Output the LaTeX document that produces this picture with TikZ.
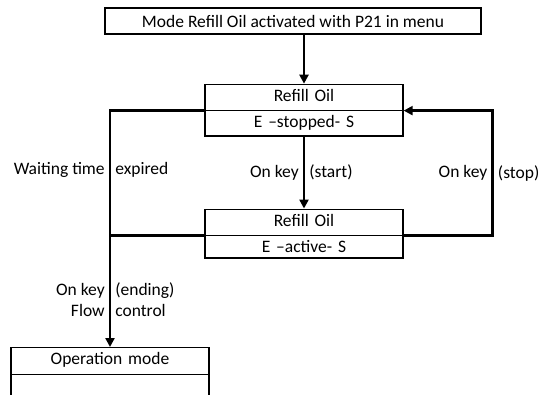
\documentclass[tikz,border=0pt]{standalone}
\usepackage{fontspec}
\setmainfont{Carlito}
\usetikzlibrary{positioning,shapes.multipart,arrows.meta}

\begin{document}
\begin{tikzpicture}[x=1bp, y=-1bp,
		font=\fontsize{17.5bp}{21bp}\selectfont,
		startbox/.style={rectangle, draw=black, line width=1.3bp, minimum width=376bp, minimum height=26bp, inner sep=0pt},
		statebox/.style={rectangle split, rectangle split parts=2, rectangle split draw splits=false, draw=black, line width=1.3bp, text width=190bp, align=center, inner xsep=4bp, inner ysep=4.5bp, text height=12bp, text depth=4bp},
		label/.style={inner sep=4bp, font=\fontsize{17.5bp}{21bp}\selectfont}
	]
	\useasboundingbox (0,0) rectangle (539,394);
	\node[startbox] (activate) at (293,21) {Mode Refill Oil activated with P21 in menu};
	\node[statebox] (stopped) [below=49bp of activate, xshift=11bp] {Refill Oil \nodepart{two} E –stopped- S};
	\node[statebox] (active) [below=72bp of stopped] {Refill Oil \nodepart{two} E –active- S};
	\node[statebox, anchor=north] (opmode) at (110,347) {Operation mode \nodepart{two} \rule{0pt}{30bp}};
	% thin dividers
	\foreach \n in {stopped,active,opmode}
		\draw[line width=0.7bp] (\n.text split west) -- (\n.text split east);
	\begin{scope}[line width=2.6bp, -{Triangle[length=9bp,width=9bp]}]
	\draw (activate.south -| stopped.north) -- (stopped.north);
	\draw (stopped.south) -- (active.north)
		node[label, midway, left] {On key}
		node[label, midway, right] {(start)};
	\draw (active.text split east) -- ++(89,0) |- (stopped.text split east)
		node[label, pos=0.25, left] {On key}
		node[label, pos=0.25, right] {(stop)};
	\draw (stopped.text split west) -| (opmode.north)
		node[label, pos=0.625, left] {Waiting time}
		node[label, pos=0.625, right] {expired}
		node[label, pos=0.9, left, align=right] {On key\\Flow}
		node[label, pos=0.9, right, align=left] {(ending)\\control};
	\draw[-] (active.text split west) -- (active.text split west -| opmode.north);
	\end{scope}
\end{tikzpicture}
\end{document}
